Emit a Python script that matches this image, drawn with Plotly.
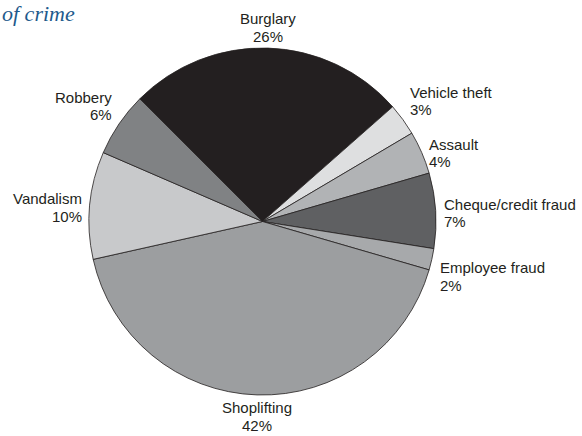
import math
import plotly.graph_objects as go

# Data
categories = ["Burglary", "Vehicle theft", "Assault", "Cheque/credit fraud",
              "Employee fraud", "Shoplifting", "Vandalism", "Robbery"]
shares = [26, 3, 4, 7, 2, 42, 10, 6]
colors = ["#231f20", "#dedfe0", "#b1b3b5", "#5f6062",
          "#a7a9ab", "#9c9ea0", "#c8c9cb", "#808284"]
title_text = "of crime"

W, H = 582, 436
cx, cy, r = 262.5, 221.5, 173.5
start_angle = -45  # degrees clockwise from 12 o'clock

fig = go.Figure()
fig.add_trace(go.Pie(
    labels=categories,
    values=shares,
    sort=False,
    direction="clockwise",
    rotation=start_angle,
    textinfo="none",
    hoverinfo="skip",
    marker=dict(colors=colors, line=dict(color="#231f20", width=0.8)),
    domain=dict(x=[(cx - r) / W, (cx + r) / W],
                y=[1 - (cy + r) / H, 1 - (cy - r) / H]),
    showlegend=False,
))

# Labels positioned from each slice's mid-angle (two lines each)
lab_font = dict(family="Liberation Sans, Arial, sans-serif", size=15, color="#231f20")
LS = 17.5
annotations = []
total = sum(shares)
cum = 0.0
R = r + 6
for lab, v in zip(categories, shares):
    mid = start_angle + 360.0 * (cum + v / 2) / total
    cum += v
    a = math.radians(mid)
    s, c = math.sin(a), math.cos(a)
    px = cx + R * s
    py = cy - R * c
    if s > 0.3:
        xa = "left"
    elif s < -0.3:
        xa = "right"
    else:
        xa = "center"
    if c > 0.45:
        y2 = py - 6
        y1 = y2 - LS
    elif c < -0.2:
        y1 = py + 7
        y2 = y1 + LS
    else:
        y1 = py - LS / 2 + 3
        y2 = py + LS / 2 + 3
    for txt, yy in ((lab, y1), (f"{v}%", y2)):
        annotations.append(dict(
            x=px / W, y=1 - yy / H, xref="paper", yref="paper",
            text=txt, showarrow=False,
            xanchor=xa, yanchor="middle", align=xa,
            font=lab_font,
        ))

annotations.append(dict(
    x=0, y=1 + 1 / H, xref="paper", yref="paper",
    text=f"<i>{title_text}</i>", showarrow=False,
    xanchor="left", yanchor="top",
    font=dict(family="Liberation Serif, Times New Roman, serif", size=22, color="#1e5a8c"),
))

fig.update_layout(
    width=W, height=H,
    margin=dict(l=0, r=0, t=0, b=0),
    paper_bgcolor="white", plot_bgcolor="white",
    annotations=annotations,
)

fig.write_html("out.html", config={"displayModeBar": False},
               post_script="document.body.style.margin='0px';")
